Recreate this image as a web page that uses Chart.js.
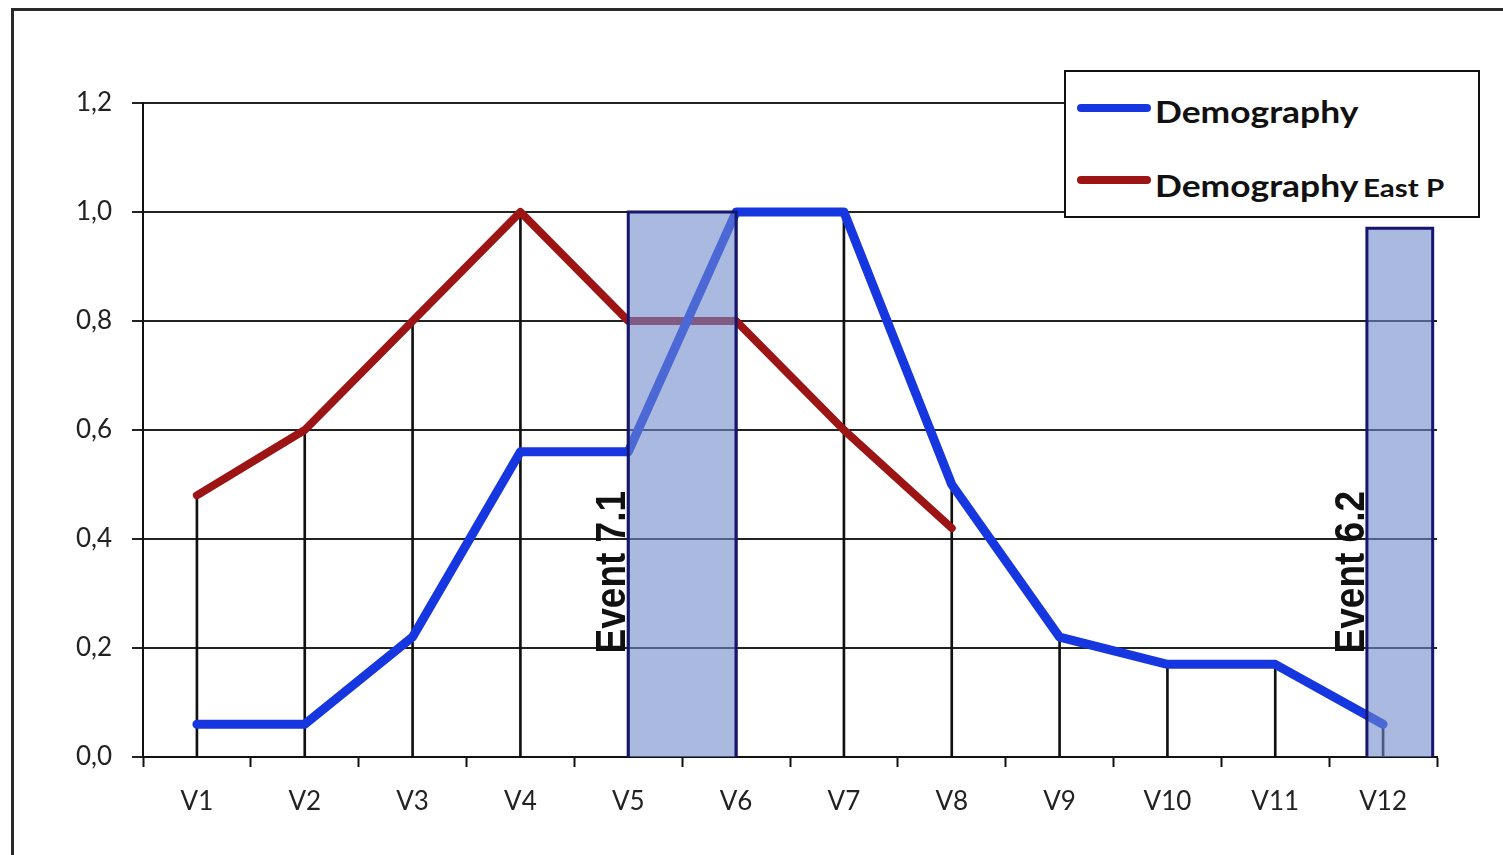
<!DOCTYPE html>
<html>
<head>
<meta charset="utf-8">
<script src="https://cdn.jsdelivr.net/npm/chart.js@4.4.1/dist/chart.umd.min.js"></script>
<style>
  body { margin: 0; background: #fff; overflow: hidden; }
  #wrap { position: relative; width: 1503px; height: 855px; overflow: hidden; }
  #frame { position: absolute; left: 11px; top: 8px; width: 1600px; height: 1000px; border: 3px solid #2a2a2a; }
  #myChart { position: absolute; left: 0; top: 0; }
  #legend { position: absolute; left: 1064px; top: 70px; width: 412px; height: 144px; border: 2px solid #111; background: #fff;
    font-family: Lato, "Open Sans", sans-serif; font-weight: bold; color: #111; }
  .swatch { position: absolute; left: 11px; width: 74px; height: 8px; border-radius: 4px; }
  .label { position: absolute; left: 89px; line-height: 30px; white-space: nowrap; transform: scaleX(1.18); transform-origin: left center; }
  .big { font-size: 30px; }
  .small { font-size: 25px; }
</style>
</head>
<body>
<div id="wrap">
  <div id="frame"></div>
  <canvas id="myChart" width="1503" height="855"></canvas>
  <div id="legend">
    <div class="swatch" style="top:32px; background:#1636e0;"></div>
    <div class="label" style="top:24px;"><span class="big">Demography</span></div>
    <div class="swatch" style="top:104px; background:#9c1414;"></div>
    <div class="label" style="top:98px;"><span class="big">Demography</span> <span class="small">East P</span></div>
  </div>
</div>
<script>
const categories = ['V1', 'V2', 'V3', 'V4', 'V5', 'V6', 'V7', 'V8', 'V9', 'V10', 'V11', 'V12'];
const demography = [0.06, 0.06, 0.22, 0.56, 0.56, 1.0, 1.0, 0.5, 0.22, 0.17, 0.17, 0.06];
const demographyEastP = [0.48, 0.6, 0.8, 1.0, 0.8, 0.8, 0.6, 0.42, null, null, null, null];
const yTicks = [0, 0.2, 0.4, 0.6, 0.8, 1.0, 1.2];

// event bands, in category units (V1 = 1)
const eventNames = ['Event 7.1', 'Event 6.2'];
const eventStart = [5, 11.85];
const eventEnd = [6, 12.46];
const eventHeight = [1.0, 0.97];

function toPoints(values) {
  const pts = [];
  values.forEach((v, i) => {
    if (v !== null) pts.push({ x: i + 1, y: v });
  });
  return pts;
}

// drop lines go from the highest series value down to the axis
const dropLines = categories.map((c, i) => ({
  x: i + 1,
  y: Math.max(demography[i], demographyEastP[i] === null ? 0 : demographyEastP[i])
}));

const eventDatasets = eventNames.map((name, i) => ({
  type: 'line',
  label: name,
  data: [
    { x: eventStart[i], y: 0 },
    { x: eventStart[i], y: eventHeight[i] },
    { x: eventEnd[i], y: eventHeight[i] },
    { x: eventEnd[i], y: 0 }
  ],
  borderColor: '#16166e',
  borderWidth: 3,
  backgroundColor: 'rgba(112, 138, 203, 0.6)',
  fill: 'origin',
  pointRadius: 0,
  tension: 0
}));

const eventLabels = {
  id: 'eventLabels',
  afterDatasetsDraw(chart) {
    const { ctx, scales: { x, y } } = chart;
    ctx.save();
    ctx.font = 'bold 37px "Liberation Sans", Arial, sans-serif';
    ctx.fillStyle = '#111';
    ctx.textAlign = 'left';
    ctx.textBaseline = 'alphabetic';
    eventNames.forEach((name, i) => {
      ctx.save();
      ctx.translate(x.getPixelForValue(eventStart[i]) - 3, y.getPixelForValue(0.19));
      ctx.rotate(-Math.PI / 2);
      ctx.scale(1, 1.15);
      ctx.fillText(name, 0, 0);
      ctx.restore();
    });
    ctx.restore();
  }
};

const tickFont = { family: 'Lato, "Open Sans", sans-serif', size: 26 };

function isCenterTick(c) {
  return c.tick && Number.isInteger(c.tick.value);
}

new Chart(document.getElementById('myChart').getContext('2d'), {
  type: 'line',
  data: {
    datasets: [
      ...eventDatasets,
      {
        label: 'Demography',
        data: toPoints(demography),
        borderColor: '#1636e0',
        borderWidth: 9,
        borderCapStyle: 'round',
        borderJoinStyle: 'round',
        pointRadius: 0,
        fill: false
      },
      {
        label: 'Demography East P',
        data: toPoints(demographyEastP),
        borderColor: '#9c1414',
        borderWidth: 8,
        borderCapStyle: 'round',
        borderJoinStyle: 'round',
        pointRadius: 0,
        fill: false
      },
      {
        type: 'bar',
        label: 'drop',
        data: dropLines,
        backgroundColor: '#111',
        barThickness: 2,
        borderWidth: 0
      }
    ]
  },
  options: {
    responsive: false,
    animation: false,
    layout: { padding: { top: 103, right: 66, left: 0, bottom: 0 } },
    plugins: {
      legend: { display: false },
      tooltip: { enabled: false }
    },
    scales: {
      x: {
        type: 'linear',
        min: 0.5,
        max: 12.5,
        offset: false,
        afterBuildTicks(scale) {
          const t = [];
          for (let v = 0.5; v <= 12.5; v += 0.5) t.push({ value: v });
          scale.ticks = t;
        },
        afterFit(scale) { scale.height = 98; },
        ticks: {
          autoSkip: false,
          maxRotation: 0,
          padding: 19,
          color: '#222',
          font: tickFont,
          callback: (v) => Number.isInteger(v) ? categories[v - 1] : ''
        },
        grid: {
          drawOnChartArea: false,
          offset: false,
          tickLength: 10,
          tickWidth: 2,
          tickColor: (c) => isCenterTick(c) ? 'rgba(0,0,0,0)' : '#111'
        },
        border: { color: '#111', width: 2 }
      },
      y: {
        min: 0,
        max: 1.2,
        afterBuildTicks(scale) {
          scale.ticks = yTicks.map(v => ({ value: v }));
        },
        afterFit(scale) { scale.width = 143; },
        ticks: {
          padding: 20,
          color: '#222',
          font: tickFont,
          callback: (v) => v.toFixed(1).replace('.', ',')
        },
        grid: { color: '#222', lineWidth: 2, tickLength: 11 },
        border: { color: '#111', width: 2 }
      }
    }
  },
  plugins: [eventLabels]
});
</script>
</body>
</html>
